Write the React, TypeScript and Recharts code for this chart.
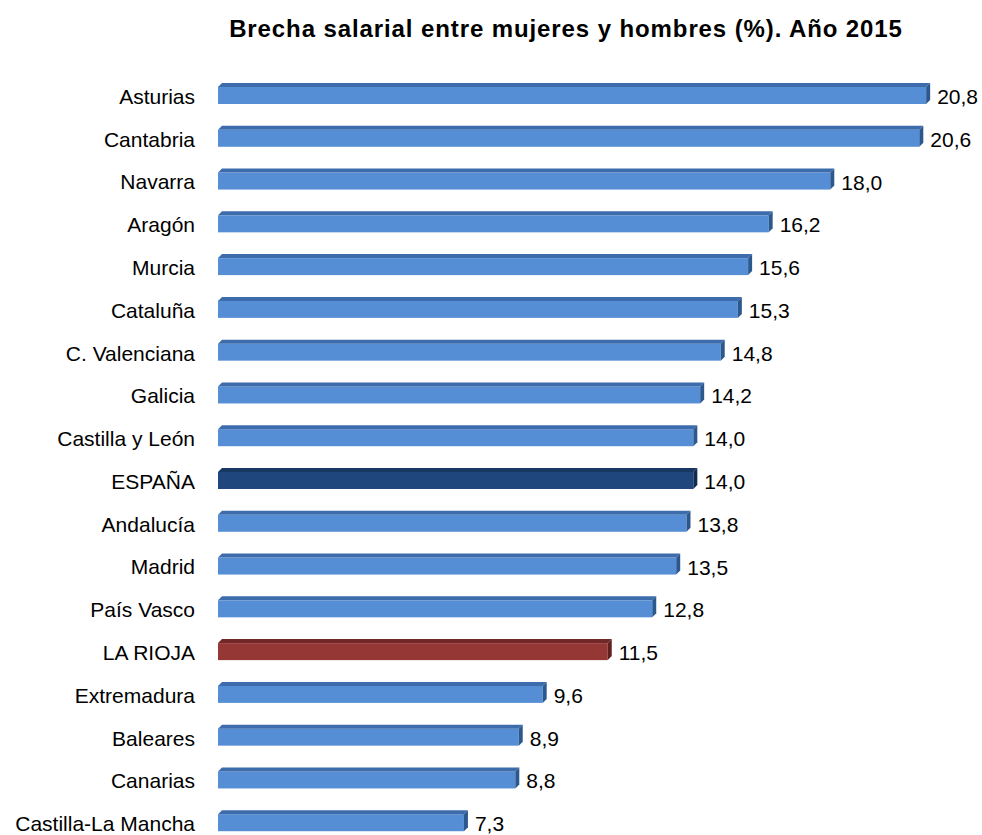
import { BarChart, Bar, XAxis, YAxis, Cell, LabelList } from 'recharts';

const regions = [
  'Asturias', 'Cantabria', 'Navarra', 'Aragón', 'Murcia', 'Cataluña', 'C. Valenciana',
  'Galicia', 'Castilla y León', 'ESPAÑA', 'Andalucía', 'Madrid', 'País Vasco',
  'LA RIOJA', 'Extremadura', 'Baleares', 'Canarias', 'Castilla-La Mancha',
];
const brecha = [20.8, 20.6, 18.0, 16.2, 15.6, 15.3, 14.8, 14.2, 14.0, 14.0, 13.8, 13.5, 12.8, 11.5, 9.6, 8.9, 8.8, 7.3];

const data = regions.map((name, i) => ({ name, value: brecha[i] }));

const FONT = '"Liberation Sans", Arial, sans-serif';

// front / top / side colours of the 3d bars
const palette: Record<string, [string, string, string]> = {
  normal: ['#558ed5', '#3c6cab', '#2c5890'],
  spain: ['#1f477e', '#173862', '#112c50'],
  rioja: ['#953735', '#722826', '#5f201e'],
};

const kindOf = (name: string) => (name === 'ESPAÑA' ? 'spain' : name === 'LA RIOJA' ? 'rioja' : 'normal');

const Bar3D = (props: any) => {
  const { x, y, width, height, payload } = props;
  const [front, top, side] = palette[kindOf(payload.name)];
  const d = 4;
  const r = x + width;
  return (
    <g>
      <rect x={x} y={y + d} width={width - d} height={height - d} fill={front} />
      <polygon points={`${x},${y + d} ${x + d},${y} ${r},${y} ${r - d},${y + d}`} fill={top} />
      <polygon points={`${r - d},${y + d} ${r},${y} ${r},${y + height - d} ${r - d},${y + height}`} fill={side} />
    </g>
  );
};

const RegionTick = (props: any) => {
  const { x, y, payload } = props;
  return (
    <text x={x} y={y + 3} dy="0.355em" textAnchor="end" fill="#000" fontSize={21} fontFamily={FONT}>
      {payload.value}
    </text>
  );
};

const ValueLabel = (props: any) => {
  const { x, y, width, height, value } = props;
  return (
    <text x={x + width + 7} y={y + height / 2 + 3} dy="0.355em" fill="#000" fontSize={21} fontFamily={FONT}>
      {Number(value).toFixed(1).replace('.', ',')}
    </text>
  );
};

export default function App() {
  return (
    <div style={{ position: 'absolute', left: 0, top: 0, width: 982, height: 835, overflow: 'hidden', background: '#fff', fontFamily: FONT }}>
      <div style={{ position: 'absolute', top: 15, left: 150, width: 832, textAlign: 'center', fontWeight: 'bold', fontSize: 24, letterSpacing: 0.9, color: '#000' }}>
        Brecha salarial entre mujeres y hombres (%). Año 2015
      </div>
      <BarChart width={982} height={845} data={data} layout="vertical" margin={{ top: 72, right: 45, bottom: 3, left: 0 }}>
        <XAxis type="number" domain={[0, 21]} hide />
        <YAxis
          type="category"
          dataKey="name"
          width={218}
          tickSize={0}
          tickMargin={23}
          axisLine={false}
          tickLine={false}
          interval={0}
          tick={<RegionTick />}
        />
        <Bar dataKey="value" barSize={21} shape={<Bar3D />} isAnimationActive={false}>
          {data.map((d) => (
            <Cell key={d.name} fill={palette[kindOf(d.name)][0]} />
          ))}
          <LabelList dataKey="value" content={<ValueLabel />} />
        </Bar>
      </BarChart>
    </div>
  );
}
